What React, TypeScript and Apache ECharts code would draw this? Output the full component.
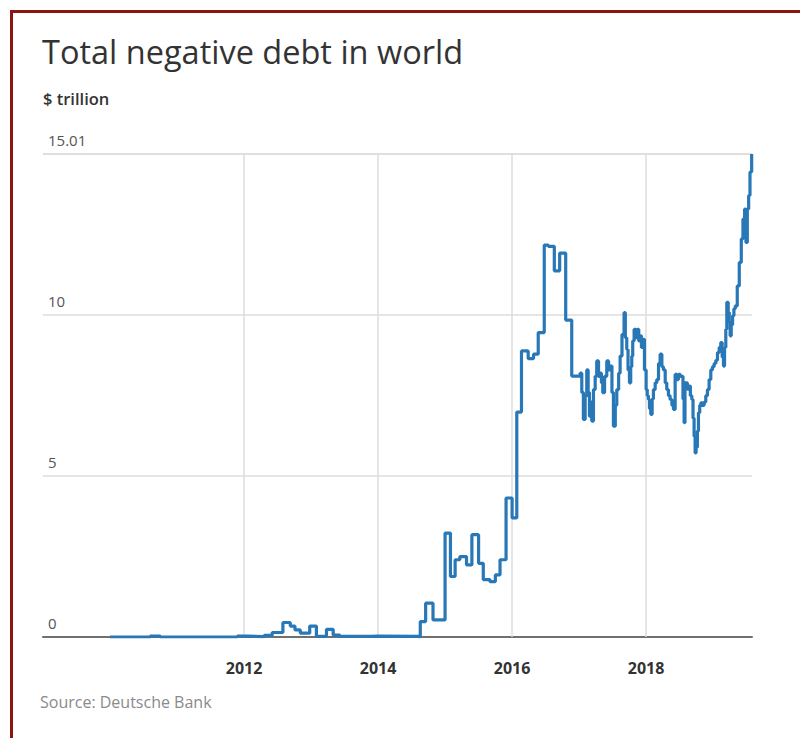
import React, { useEffect, useRef } from "react";
import * as echarts from "echarts";

// decimal-year dates and values ($ trillion)
const dates = [
  2010.0, 2010.6, 2010.75, 2011.9, 2012.05, 2012.3, 2012.42, 2012.58, 2012.69, 2012.76,
  2012.84, 2012.98, 2013.08, 2013.23, 2013.33, 2013.43, 2013.9, 2014.0, 2014.6, 2014.63,
  2014.71, 2014.82, 2015.0, 2015.08, 2015.15, 2015.22, 2015.32, 2015.4, 2015.5, 2015.57,
  2015.67, 2015.75, 2015.82, 2015.91, 2016.0, 2016.07, 2016.14, 2016.24, 2016.32, 2016.39,
  2016.48, 2016.54, 2016.63, 2016.71, 2016.8, 2016.89,
  2017.015, 2017.04, 2017.064, 2017.09, 2017.114, 2017.135, 2017.154, 2017.17, 2017.189, 2017.214,
  2017.24, 2017.263, 2017.29, 2017.313, 2017.333, 2017.353, 2017.38, 2017.413, 2017.44, 2017.462,
  2017.49, 2017.512, 2017.54, 2017.562, 2017.59, 2017.612, 2017.64, 2017.671, 2017.69, 2017.711,
  2017.73, 2017.751, 2017.77, 2017.786, 2017.8, 2017.821, 2017.845, 2017.87, 2017.89, 2017.91,
  2017.93, 2017.95, 2017.975, 2018.0, 2018.017, 2018.034, 2018.05, 2018.069, 2018.09, 2018.109,
  2018.135, 2018.159, 2018.185, 2018.209, 2018.235, 2018.258, 2018.285, 2018.308, 2018.333, 2018.358,
  2018.385, 2018.408, 2018.433, 2018.458, 2018.482, 2018.51, 2018.532, 2018.55, 2018.567, 2018.58,
  2018.597, 2018.615, 2018.632, 2018.66, 2018.682, 2018.7, 2018.716, 2018.731, 2018.746, 2018.765,
  2018.781, 2018.8, 2018.816, 2018.84, 2018.866, 2018.89, 2018.915, 2018.94, 2018.965, 2018.99,
  2019.015, 2019.04, 2019.065, 2019.09, 2019.114, 2019.135, 2019.154, 2019.17, 2019.189, 2019.204,
  2019.225, 2019.24, 2019.254, 2019.27, 2019.29, 2019.31, 2019.33, 2019.36, 2019.39, 2019.42,
  2019.445, 2019.47, 2019.49, 2019.51, 2019.53, 2019.55, 2019.575,
];
const values = [
  0.0, 0.03, 0.0, 0.03, 0.01, 0.05, 0.14, 0.45, 0.34, 0.22,
  0.12, 0.34, 0.02, 0.24, 0.06, 0.02, 0.03, 0.02, 0.0, 0.48,
  1.05, 0.53, 3.23, 1.88, 2.4, 2.5, 2.24, 3.18, 2.29, 1.78,
  1.72, 1.93, 2.4, 4.32, 3.7, 6.99, 8.89, 8.65, 8.79, 9.46,
  12.18, 12.14, 11.38, 11.93, 9.85, 8.11,
  8.2, 7.6, 6.76, 7.5, 8.3, 7.6, 6.86, 7.3, 6.71, 7.69,
  8.1, 8.58, 8.1, 8.2, 7.9, 7.59, 8.1, 8.58, 8.3, 8.42,
  7.6, 6.55, 7.2, 7.69, 8.2, 8.73, 9.4, 10.08, 9.3, 8.94,
  8.3, 7.9, 8.4, 8.73, 9.2, 9.56, 9.3, 9.56, 9.2, 9.36,
  9.0, 9.25, 8.3, 7.69, 7.5, 7.38, 7.1, 6.92, 7.4, 7.69,
  7.9, 8.0, 8.5, 8.79, 8.4, 8.3, 7.9, 7.69, 7.5, 7.38,
  7.2, 7.07, 8.16, 8.0, 8.16, 8.1, 8.1, 7.4, 6.66, 7.9,
  7.9, 7.7, 7.8, 7.5, 7.38, 6.8, 6.24, 5.72, 5.9, 6.4,
  6.97, 7.2, 7.28, 7.2, 7.3, 7.5, 7.69, 8.0, 8.3, 8.4,
  8.5, 8.6, 8.84, 9.0, 9.15, 8.7, 8.42, 9.0, 9.56, 10.4,
  10.1, 9.8, 9.36, 9.7, 9.98, 10.2, 10.29, 10.91, 11.64, 12.37,
  12.99, 13.3, 12.26, 13.3, 13.72, 14.45, 15.01,
];
const gridYears = [2012, 2014, 2016, 2018];
const yMax = 15.01;
const yInterval = yMax / 3; // ticks at 0, ~5, ~10, 15.01
const xMin = 2009;
const xMax = 2019.58;

const FONT = "'Open Sans', 'DejaVu Sans', sans-serif";

export default function App() {
  const ref = useRef<HTMLDivElement>(null);
  useEffect(() => {
    const chart = echarts.init(ref.current!, null, { renderer: "svg" });
    chart.setOption({
      animation: false,
      backgroundColor: "#ffffff",
      grid: { left: 43, right: 48, top: 154, bottom: 101, containLabel: false },
      xAxis: {
        type: "value",
        min: xMin,
        max: xMax,
        interval: 1,
        axisLine: { show: true, onZero: false, lineStyle: { color: "#707070", width: 2 } },
        axisTick: { show: false },
        splitLine: { show: false },
        axisLabel: {
          margin: 23,
          fontFamily: FONT,
          fontSize: 16,
          fontWeight: "bold",
          color: "#333333",
          formatter: (v: number) => (gridYears.indexOf(v) >= 0 ? String(v) : ""),
        },
      },
      yAxis: {
        type: "value",
        min: 0,
        max: yMax,
        interval: yInterval,
        axisLine: { show: false },
        axisTick: { show: false },
        splitLine: { show: true, lineStyle: { color: "#dddddd", width: 1.5 } },
        axisLabel: {
          inside: true,
          margin: 5,
          verticalAlign: "bottom",
          padding: [0, 0, 7, 0],
          fontFamily: FONT,
          fontSize: 15,
          color: "#555555",
          formatter: (v: number) => (v >= yMax - 1e-6 ? String(yMax) : String(Math.round(v))),
        },
      },
      series: [
        {
          type: "line",
          step: "end",
          z: 3,
          showSymbol: false,
          symbol: "none",
          lineStyle: { color: "#2878b8", width: 3.2 },
          data: dates.map((d, i) => [d, values[i]]),
          markLine: {
            z: 1,
            silent: true,
            symbol: ["none", "none"],
            label: { show: false },
            lineStyle: { color: "#dddddd", width: 1.5, type: "solid" },
            data: gridYears.map((y) => ({ xAxis: y })),
          },
        },
      ],
      graphic: [
        { type: "rect", shape: { x: 10, y: 10, width: 790, height: 3 }, style: { fill: "#8e1414" }, silent: true },
        { type: "rect", shape: { x: 10, y: 10, width: 3, height: 728 }, style: { fill: "#8e1414" }, silent: true },
        {
          type: "text",
          x: 42,
          y: 51,
          style: { text: "Total negative debt in world", font: `32.5px ${FONT}`, fill: "#333333", verticalAlign: "middle" },
        },
        {
          type: "text",
          x: 43,
          y: 98,
          style: { text: "$ trillion", font: `600 16.5px ${FONT}`, fill: "#333333", verticalAlign: "middle" },
        },
        {
          type: "text",
          x: 40,
          y: 702,
          style: { text: "Source: Deutsche Bank", font: `16px ${FONT}`, fill: "#8a8a8a", verticalAlign: "middle" },
        },
      ],
    });
    return () => chart.dispose();
  }, []);
  return (
    <div
      ref={ref}
      style={{ position: "absolute", left: 0, top: 0, width: 800, height: 738, background: "#fff" }}
    />
  );
}
